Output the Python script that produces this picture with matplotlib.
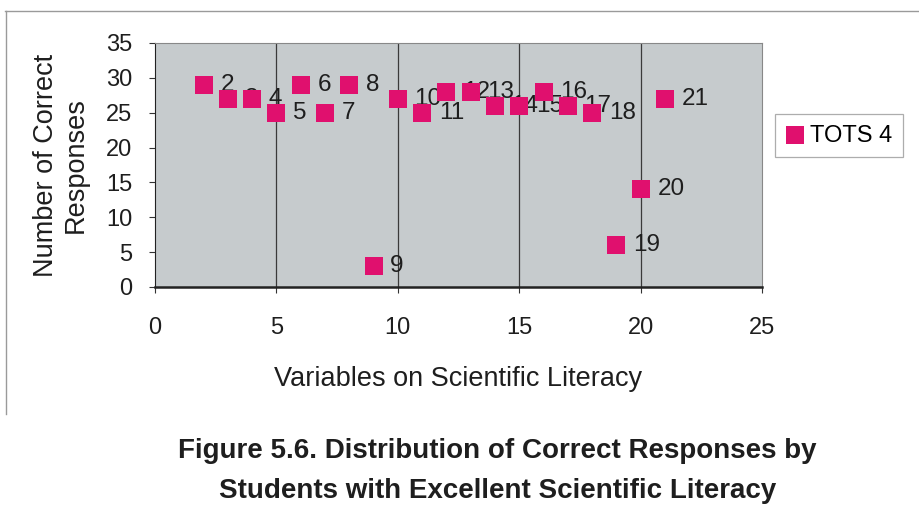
import matplotlib
matplotlib.use('Agg')
import matplotlib.pyplot as plt
from matplotlib.lines import Line2D

plt.rcParams['font.family'] = ['Liberation Sans', 'DejaVu Sans']

# variable number vs number of correct responses
variables = [2, 3, 4, 5, 6, 7, 8, 9, 10, 11, 12, 13, 14, 15, 16, 17, 18, 19, 20, 21]
correct = [29, 27, 27, 25, 29, 25, 29, 3, 27, 25, 28, 28, 26, 26, 28, 26, 25, 6, 14, 27]
point_labels = [str(v) for v in variables]

x_ticks = [0, 5, 10, 15, 20, 25]
y_ticks = [0, 5, 10, 15, 20, 25, 30, 35]

pink = '#e0106e'
ink = '#1e1e1e'

fig = plt.figure(figsize=(9.19, 5.17), dpi=100)

# scanned page border (top and left)
fig.add_artist(Line2D([0.005, 1.0], [0.979, 0.979], color='#9a9a9a', lw=1.0))
fig.add_artist(Line2D([0.006, 0.006], [0.979, 0.2], color='#9a9a9a', lw=1.0))

ax = fig.add_axes([0.1687, 0.4449, 0.6605, 0.472])
ax.set_facecolor('#c6cbcd')

ax.scatter(variables, correct, marker='s', s=150, color=pink, zorder=3,
           label='TOTS 4', linewidths=0)
# labels sit under the markers, like the original
for x, y, lab in zip(variables, correct, point_labels):
    ax.annotate(lab, (x, y), xytext=(12, 0), textcoords='offset points',
                ha='left', va='center', fontsize=17.5, color=ink, zorder=2.5)

ax.set_xlim(0, 25)
ax.set_ylim(0, 35)
ax.set_xticks(x_ticks)
ax.set_yticks(y_ticks)
ax.tick_params(labelsize=17, colors='#333333', labelcolor=ink, length=4.5, width=0.8)
ax.tick_params(axis='x', pad=17)
ax.tick_params(axis='y', pad=12)

for v in x_ticks[1:-1]:
    ax.axvline(v, color='#3a3a3a', lw=0.9, zorder=1)

ax.spines['left'].set_color('#222222')
ax.spines['bottom'].set_color('#222222')
ax.spines['bottom'].set_linewidth(1.8)
ax.spines['top'].set_color('#888888')
ax.spines['right'].set_color('#888888')

ax.set_xlabel('Variables on Scientific Literacy', fontsize=19.5, color=ink, va='top')
ax.xaxis.set_label_coords(0.499, -0.325)
ax.set_ylabel('Number of Correct\nResponses', fontsize=19.5, color=ink,
              linespacing=1.15)
ax.yaxis.set_label_coords(-0.11, 0.5)

leg = ax.legend(loc='center left', bbox_to_anchor=(1.0, 0.62), fontsize=17,
                frameon=True, fancybox=False, edgecolor='#999999',
                handletextpad=0.25, borderpad=0.45, borderaxespad=0.55,
                handlelength=0.8, scatterpoints=1)
leg.get_frame().set_linewidth(0.9)

fig.text(0.541, 0.128, 'Figure 5.6. Distribution of Correct Responses by',
         ha='center', va='center', fontsize=20, fontweight='bold', color=ink)
fig.text(0.541, 0.050, 'Students with Excellent Scientific Literacy',
         ha='center', va='center', fontsize=20, fontweight='bold', color=ink)

fig.savefig('out.png', dpi=100)
